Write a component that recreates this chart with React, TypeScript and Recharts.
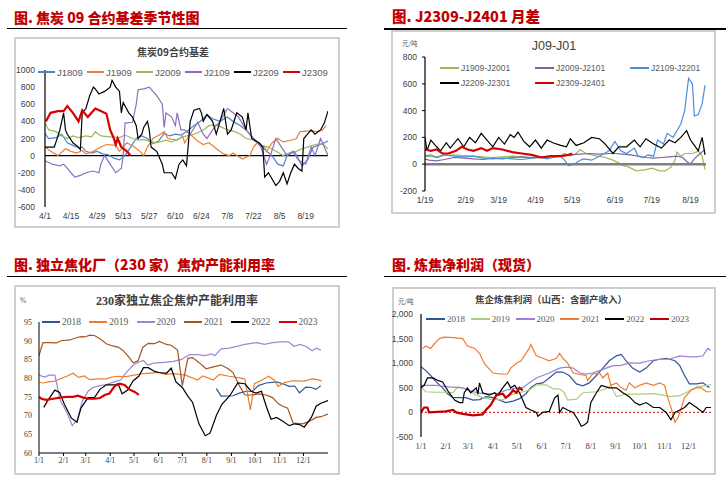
import React from 'react';
import { LineChart, Line, XAxis, YAxis, ReferenceLine } from 'recharts';

type Pt = [number, number];
interface Series { name: string; color: string; width: number; pts: Pt[] }

// ---------- Panel 1: 焦炭09合约基差 (x = days since 4/1) ----------
const p1TickDays = [0, 14, 28, 42, 56, 70, 84, 98, 112, 126, 140];
const p1TickLabels = ['4/1', '4/15', '4/29', '5/13', '5/27', '6/10', '6/24', '7/8', '7/22', '8/5', '8/19'];
const p1YTicks = [-600, -400, -200, 0, 200, 400, 600, 800, 1000];

const j1809: Pt[] = [[0,260],[2,200],[6,210],[9,250],[12,150],[15,120],[18,90],[20,100],[22,50],[25,30],[28,50],[31,20],[34,10],[37,-30],[40,-50],[43,0],[46,100],[49,200],[52,230],[55,200],[58,140],[61,170],[64,260],[67,230],[70,250],[73,240],[76,280],[80,350],[84,410],[87,480],[90,430],[94,400],[98,450],[101,400],[105,350],[108,300],[112,200],[116,120],[119,50],[122,0],[125,-100],[128,-120],[130,0],[134,50],[138,-120],[141,-50],[144,100],[148,130],[152,170]];
const j1909: Pt[] = [[0,100],[3,50],[7,0],[11,80],[14,50],[17,30],[20,60],[22,20],[26,50],[30,100],[33,130],[38,120],[40,50],[44,150],[48,100],[51,50],[53,0],[55,100],[58,200],[62,250],[64,280],[66,200],[71,180],[74,230],[75,150],[78,250],[82,170],[85,130],[88,150],[91,100],[92,80],[96,20],[99,0],[101,30],[106,-40],[110,0],[112,100],[114,150],[118,100],[119,50],[122,150],[125,200],[128,160],[132,180],[135,200],[137,280],[143,290],[146,280],[149,300],[151,350]];
const j2009: Pt[] = [[0,380],[2,300],[6,280],[9,230],[12,200],[15,230],[18,210],[22,230],[25,220],[27,280],[30,230],[35,220],[40,210],[43,240],[47,200],[50,180],[53,190],[56,170],[60,150],[65,180],[68,160],[72,200],[76,230],[80,250],[85,300],[88,350],[92,360],[95,330],[98,300],[102,280],[105,250],[108,200],[112,180],[116,120],[120,100],[124,50],[128,0],[131,30],[135,50],[138,80],[141,100],[145,130],[149,140],[152,80]];
const j2109: Pt[] = [[0,-60],[4,-100],[8,-120],[10,-100],[12,-150],[14,-200],[16,-250],[19,-230],[22,-200],[26,-180],[29,-200],[30,-100],[32,0],[35,-100],[38,-200],[41,-150],[42,0],[43,380],[47,390],[49,600],[50,770],[53,780],[56,800],[60,700],[63,600],[64,330],[65,500],[68,450],[70,350],[71,500],[73,300],[75,300],[78,250],[80,320],[82,390],[85,250],[87,200],[90,300],[94,400],[98,550],[101,500],[104,450],[108,300],[112,200],[116,100],[119,-100],[121,0],[124,200],[127,100],[130,0],[133,50],[136,-50],[140,-100],[143,100],[145,0],[148,200],[150,100],[152,0]];
const j2209: Pt[] = [[0,100],[5,100],[8,300],[10,500],[11,300],[12,250],[15,150],[18,100],[19,70],[20,500],[22,550],[24,700],[26,800],[27,780],[29,720],[32,750],[35,800],[36,880],[38,800],[40,750],[41,500],[42,620],[45,500],[47,450],[49,350],[50,200],[52,250],[53,330],[55,400],[56,300],[57,100],[60,50],[63,-100],[64,-200],[68,-200],[70,-270],[72,-100],[74,-50],[76,-120],[78,400],[80,530],[83,550],[84,500],[85,400],[87,480],[90,400],[92,250],[94,400],[96,550],[98,250],[100,300],[103,500],[106,450],[108,300],[109,500],[111,200],[115,150],[117,100],[118,-250],[120,-200],[124,-350],[126,-300],[128,-200],[130,-330],[132,-200],[134,-100],[136,-150],[138,-180],[139,200],[141,250],[143,300],[145,250],[148,300],[150,380],[152,520]];
const j2309: Pt[] = [[0.5,400],[3,500],[7,520],[10,520],[12,580],[15,500],[18,400],[20,530],[23,450],[25,500],[27,550],[30,520],[33,490],[35,300],[37,200],[38,130],[39,200],[41,100],[44,50],[46,0]];

const p1Series: Series[] = [
  { name: 'J1809', color: '#4A86C8', width: 1.2, pts: j1809 },
  { name: 'J1909', color: '#ED7D31', width: 1.2, pts: j1909 },
  { name: 'J2009', color: '#9BBB59', width: 1.2, pts: j2009 },
  { name: 'J2109', color: '#8E6FBF', width: 1.2, pts: j2109 },
  { name: 'J2209', color: '#000000', width: 1.2, pts: j2209 },
  { name: 'J2309', color: '#D80000', width: 2.2, pts: j2309 },
];

// ---------- Panel 2: J09-J01 (x = trading-day index since 1/19) ----------
const p2TickDays = [0, 21, 38, 57, 76, 98, 117, 137];
const p2TickLabels = ['1/19', '2/19', '3/19', '4/19', '5/19', '6/19', '7/19', '8/19'];
const p2YTicks = [-200, 0, 200, 400, 600, 800];

const s1909: Pt[] = [[0,60],[5,55],[10,65],[15,70],[20,65],[25,60],[30,55],[35,50],[40,55],[45,60],[50,55],[55,45],[60,50],[65,55],[70,60],[72,80],[75,60],[78,80],[80,110],[83,80],[86,70],[89,60],[93,50],[97,30],[100,10],[102,-10],[105,-20],[109,-50],[114,-40],[117,-30],[121,-50],[124,-50],[127,-20],[129,30],[130,90],[132,60],[134,80],[138,80],[140,90],[141,100],[143,60],[144.5,-40]];
const s2009: Pt[] = [[0,40],[2,30],[6,25],[10,35],[15,50],[20,45],[25,40],[30,35],[35,45],[40,40],[45,50],[50,55],[55,50],[60,55],[65,60],[70,60],[75,70],[80,75],[85,80],[90,75],[95,80],[98,80],[102,75],[106,70],[110,60],[114,50],[118,45],[122,50],[126,55],[130,60],[133,50],[135,20],[137,0],[139,40],[142,80],[144.5,110]];
const s2109: Pt[] = [[0,60],[3,70],[6,50],[10,70],[15,60],[20,55],[25,60],[30,45],[35,40],[40,45],[45,40],[50,35],[55,45],[60,50],[63,40],[66,50],[70,60],[72,30],[74,-10],[77,0],[80,30],[82,40],[86,30],[90,60],[95,100],[98,170],[101,100],[104,80],[108,120],[110,60],[113,50],[115,70],[118,60],[120,180],[123,150],[125,230],[128,200],[130,250],[132,300],[134,400],[136,640],[138,600],[139,360],[141,370],[143,450],[144.5,590]];
const s2209: Pt[] = [[0,200],[1,100],[3,180],[6,130],[8,100],[11,160],[13,120],[17,190],[20,130],[23,200],[26,160],[29,230],[32,180],[35,130],[38,200],[41,150],[44,220],[46,200],[48,240],[51,170],[54,130],[57,180],[60,120],[63,180],[66,160],[70,140],[73,130],[75,190],[78,140],[82,160],[86,200],[90,190],[93,150],[97,80],[100,130],[104,130],[108,180],[111,130],[114,190],[118,150],[122,120],[126,180],[129,160],[132,200],[135,250],[137,180],[139,140],[141,100],[143,200],[144.5,70]];
const s2309: Pt[] = [[0,110],[3,100],[6,110],[9,80],[12,80],[16,100],[19,130],[22,110],[25,100],[29,120],[32,100],[35,120],[40,110],[45,90],[50,80],[55,70],[60,50],[65,60],[70,60],[74,70],[76,80]];

const p2Series: Series[] = [
  { name: 'J1909-J2001', color: '#9BBB59', width: 1.2, pts: s1909 },
  { name: 'J2009-J2101', color: '#8064A2', width: 1.2, pts: s2009 },
  { name: 'J2109-J2201', color: '#4A8FD8', width: 1.2, pts: s2109 },
  { name: 'J2209-J2301', color: '#000000', width: 1.2, pts: s2209 },
  { name: 'J2309-J2401', color: '#D80000', width: 2.2, pts: s2309 },
];

// ---------- Panel 3: 230家独立焦企焦炉产能利用率 (x = day of year) ----------
const monthDays = [0, 31, 59, 90, 120, 151, 181, 212, 243, 273, 304, 334];
const monthLabels = ['1/1', '2/1', '3/1', '4/1', '5/1', '6/1', '7/1', '8/1', '9/1', '10/1', '11/1', '12/1'];
const p3YTicks = [60, 65, 70, 75, 80, 85, 90, 95];

const u2018: Pt[] = [[224,77.2],[230,75.2],[245,75.3],[253,76],[262,76.5],[270,76.5],[277,78],[287,78.7],[300,79],[308,78.5],[316,77.8],[323,77.9],[329,76.1],[337,77.6],[344,77.5],[350,77],[356,78]];
const u2019: Pt[] = [[0,78.9],[5,78.7],[12,79],[20,79.2],[35,80.5],[43,81.3],[50,80.2],[57,80.6],[64,79.6],[75,79.8],[85,79.8],[92,80.3],[100,80.5],[110,80.4],[120,80.8],[135,81.3],[150,81.5],[160,81],[170,81.2],[185,80.8],[200,79.5],[207,80.6],[220,79.5],[228,81],[240,80.5],[255,80],[260,79.8],[267,71.5],[272,78.5],[280,79.3],[290,80.5],[297,79.5],[302,77.8],[310,78.8],[320,79.3],[335,79.2],[345,79.8],[352,79.6],[357,79.2]];
const u2020: Pt[] = [[0,80.8],[7,80.3],[13,80.8],[20,80.8],[27,74],[36,70.5],[42,67.3],[48,68.8],[55,74],[62,76.5],[68,77.5],[77,78],[85,78.3],[95,79],[103,79.5],[110,81.5],[119,83.5],[126,84.3],[132,84.7],[137,83.5],[145,84],[158,84.2],[170,84.5],[180,85],[190,86.3],[200,86.3],[210,86],[218,86.5],[222,86],[230,87.8],[240,88],[250,88.5],[260,89],[275,89.5],[285,89],[295,89.5],[305,89.7],[315,89.7],[322,88.5],[330,89],[338,88.4],[345,87.3],[350,88],[356,87.5]];
const u2021: Pt[] = [[0,86],[5,89.5],[13,89.5],[22,89.4],[28,90],[39,90.2],[47,90.8],[53,91.1],[58,91],[64,91.5],[70,91.4],[77,90.5],[85,89.2],[93,88.6],[100,88.3],[106,87.4],[112,86],[119,84.1],[125,84.6],[131,88.2],[138,89.3],[146,89.2],[152,89.8],[161,89],[167,88.8],[175,87.5],[181,78],[188,85.3],[194,85.5],[203,84],[211,82.5],[220,83],[230,83.5],[239,82.5],[245,81.5],[253,78],[260,75.5],[270,75.5],[277,75.8],[287,75.5],[295,74.8],[302,73.2],[308,72.5],[314,72],[321,68],[333,67.8],[342,68.5],[350,69.5],[356,69.7],[365,70.4]];
const u2022: Pt[] = [[6,72.2],[11,74],[20,76.8],[26,76.2],[32,73],[41,69.3],[48,68.2],[53,72],[62,74.8],[70,74.8],[77,77],[85,78.2],[96,78.2],[100,78.5],[105,75.8],[112,76.8],[119,79.3],[126,80.5],[132,82.8],[138,82.8],[146,81.8],[152,81.5],[161,81.3],[167,82.7],[173,79],[181,77.5],[188,75.2],[194,73.5],[202,67.8],[210,64.6],[216,65.3],[224,70],[231,73],[241,75.3],[251,78.7],[260,78.5],[268,76.5],[274,76],[281,76.5],[287,72.5],[293,69],[300,69.5],[308,68.5],[316,67.3],[323,67.8],[329,67.6],[335,66.9],[344,69.5],[350,72.5],[356,73.3],[365,74]];
const u2023: Pt[] = [[0,75],[3,74.5],[9,74.2],[18,74.5],[26,74.8],[35,75],[43,75],[49,75.3],[56,74.8],[62,74.5],[70,74.5],[77,74.7],[83,75.5],[89,75.9],[96,78],[102,78.5],[108,78.2],[114,77],[121,76.3],[126,75.5]];

const p3Series: Series[] = [
  { name: '2018', color: '#2F5597', width: 1.2, pts: u2018 },
  { name: '2019', color: '#ED7D31', width: 1.2, pts: u2019 },
  { name: '2020', color: '#9B88D6', width: 1.2, pts: u2020 },
  { name: '2021', color: '#A5561F', width: 1.2, pts: u2021 },
  { name: '2022', color: '#000000', width: 1.2, pts: u2022 },
  { name: '2023', color: '#D80000', width: 2.2, pts: u2023 },
];

// ---------- Panel 4: 焦企炼焦利润 (x = day of year) ----------
const p4YTicks = [-500, 0, 500, 1000, 1500, 2000];

const r2018: Pt[] = [[0,930],[6,850],[12,750],[19,620],[27,500],[33,380],[40,300],[48,300],[56,300],[65,250],[73,260],[81,320],[90,300],[98,250],[106,200],[115,230],[123,280],[131,380],[137,500],[144,580],[152,600],[160,700],[169,820],[177,820],[185,750],[194,580],[202,540],[210,600],[219,750],[227,900],[235,1050],[244,1150],[250,1180],[256,1050],[264,900],[273,820],[281,900],[290,1050],[298,1080],[306,1100],[317,1050],[323,950],[329,750],[335,580],[344,580],[352,600],[360,500]];
const r2019: Pt[] = [[0,520],[6,420],[19,410],[31,410],[40,400],[46,520],[56,470],[69,350],[77,300],[85,270],[94,270],[102,250],[110,350],[119,380],[127,420],[135,450],[144,560],[156,560],[165,480],[173,480],[179,400],[183,250],[194,270],[202,400],[219,420],[231,480],[237,540],[244,320],[256,370],[273,370],[290,380],[302,350],[310,320],[323,340],[333,420],[344,520],[362,560]];
const r2020: Pt[] = [[0,550],[19,550],[35,520],[52,500],[65,420],[77,380],[94,380],[106,450],[119,500],[127,500],[135,600],[144,700],[152,750],[160,800],[173,900],[181,920],[190,900],[198,800],[206,780],[214,800],[223,850],[231,900],[240,950],[248,950],[260,1000],[273,1000],[285,1050],[298,1080],[310,1080],[323,1150],[335,1130],[344,1130],[352,1150],[358,1300],[362,1260]];
const r2021: Pt[] = [[2,1300],[6,1350],[12,1300],[17,1400],[23,1500],[29,1530],[40,1520],[52,1500],[58,1350],[67,1300],[73,1200],[79,1000],[83,920],[90,800],[98,780],[108,780],[112,900],[119,1000],[125,1050],[131,1200],[135,1300],[137,1380],[144,1150],[152,1100],[160,1050],[169,1100],[173,1200],[177,1100],[183,1000],[190,800],[198,770],[206,750],[208,650],[214,780],[223,800],[227,700],[233,800],[237,550],[244,600],[250,500],[256,450],[260,600],[267,500],[273,550],[281,600],[290,550],[298,600],[304,550],[308,300],[312,100],[317,-200],[321,-100],[325,100],[329,300],[337,450],[344,500],[350,500],[356,420],[362,420]];
const r2022: Pt[] = [[0,500],[4,550],[8,700],[15,700],[21,650],[27,620],[35,400],[42,250],[48,200],[52,200],[54,400],[58,500],[62,400],[69,500],[71,370],[73,600],[77,400],[85,350],[92,400],[96,350],[102,500],[108,620],[112,500],[117,550],[123,400],[131,100],[137,50],[144,0],[146,-80],[152,0],[160,20],[167,300],[171,350],[173,0],[177,100],[183,50],[190,0],[196,-150],[200,-280],[204,-250],[208,-200],[212,200],[219,400],[225,550],[235,500],[244,500],[252,400],[260,320],[267,200],[273,150],[281,200],[290,100],[298,100],[306,0],[312,-150],[317,0],[323,50],[329,100],[335,200],[344,100],[352,0],[356,100],[362,100]];
const r2023: Pt[] = [[0,0],[4,100],[8,100],[10,0],[31,20],[40,50],[44,0],[52,-30],[65,-60],[77,-40],[81,50],[87,150],[94,350],[102,380],[106,300],[110,350],[115,450],[119,400],[123,500],[127,450]];

const p4Series: Series[] = [
  { name: '2018', color: '#2F5597', width: 1.2, pts: r2018 },
  { name: '2019', color: '#A9CF7E', width: 1.2, pts: r2019 },
  { name: '2020', color: '#9E80D2', width: 1.2, pts: r2020 },
  { name: '2021', color: '#ED7D31', width: 1.2, pts: r2021 },
  { name: '2022', color: '#000000', width: 1.2, pts: r2022 },
  { name: '2023', color: '#C00000', width: 2.2, pts: r2023 },
];

// ---------- helpers ----------
const toXY = (pts: Pt[]) => pts.map(([x, y]) => ({ x, y }));
const SANS = "'Liberation Sans', Arial, sans-serif";
const SERIF = "'Liberation Serif', 'Times New Roman', serif";
const CJK = "'Noto Sans CJK SC', sans-serif";

const lines = (series: Series[]) =>
  series.map((s) => (
    <Line
      key={s.name}
      data={toXY(s.pts)}
      dataKey="y"
      type="linear"
      stroke={s.color}
      strokeWidth={s.width}
      dot={false}
      activeDot={false}
      isAnimationActive={false}
    />
  ));

const Abs: React.FC<{ x: number; y: number; style?: React.CSSProperties; children?: React.ReactNode }> = ({ x, y, style, children }) => (
  <div style={{ position: 'absolute', left: x, top: y, whiteSpace: 'nowrap', lineHeight: 1, ...style }}>{children}</div>
);

const LegendRow: React.FC<{ items: Series[]; x0: number; y: number; step: number; lineLen: number; font: string; size: number }> = ({ items, x0, y, step, lineLen, font, size }) => (
  <>
    {items.map((s, i) => (
      <div key={s.name} style={{ position: 'absolute', left: x0 + i * step, top: y - 6, height: 12, display: 'flex', alignItems: 'center', whiteSpace: 'nowrap' }}>
        <div style={{ width: lineLen, height: Math.max(1.5, s.width), background: s.color }} />
        <span style={{ marginLeft: 2, fontFamily: font, fontSize: size, color: '#595959' }}>{s.name}</span>
      </div>
    ))}
  </>
);

const Box: React.FC<{ x: number; y: number; w: number; h: number }> = ({ x, y, w, h }) => (
  <div style={{ position: 'absolute', left: x, top: y, width: w, height: h, boxSizing: 'border-box', border: '2px solid #CFCFCF' }} />
);

const Title: React.FC<{ x: number; y: number; text: string; size?: number }> = ({ x, y, text, size = 14 }) => (
  <Abs x={x} y={y} style={{ fontFamily: CJK, fontWeight: 900, fontSize: size, color: '#C00000' }}>{text}</Abs>
);

const Rule: React.FC<{ x: number; y: number; w: number }> = ({ x, y, w }) => (
  <div style={{ position: 'absolute', left: x, top: y, width: w, height: 1.5, background: '#000' }} />
);

export default function App() {
  return (
    <div style={{ position: 'absolute', left: 0, top: 0, width: 726, height: 483, background: '#fff', overflow: 'hidden' }}>
      {/* ===== Panel 1 ===== */}
      <Title x={14} y={10} text="图. 焦炭 09 合约基差季节性图" />
      <Rule x={7} y={27.5} w={340} />
      <Box x={14} y={37} w={326} h={191} />
      <Abs x={173} y={52} style={{ transform: 'translate(-50%,-50%)', fontFamily: CJK, fontWeight: 700, fontSize: 10, color: '#404040' }}>焦炭09合约基差</Abs>
      <div style={{ position: 'absolute', left: 14, top: 37 }}>
        <LineChart width={326} height={191} margin={{ top: 33, right: 12, bottom: 1, left: 0 }}>
          <XAxis type="number" dataKey="x" domain={[0, 152]} ticks={p1TickDays} interval={0}
            tickFormatter={(v: number) => p1TickLabels[p1TickDays.indexOf(v)]}
            axisLine={false} tickLine={false} tickSize={3} tickMargin={3} height={20}
            tick={{ fontSize: 8.5, fill: '#404040', fontFamily: SANS }} allowDataOverflow />
          <YAxis type="number" domain={[-600, 1000]} ticks={p1YTicks} interval={0} width={31}
            axisLine={{ stroke: '#000', strokeWidth: 1.2 }} tickLine={false} tickSize={2} tickMargin={8}
            tick={{ fontSize: 8.5, fill: '#404040', fontFamily: SANS }} allowDataOverflow />
          <ReferenceLine y={0} stroke="#000" strokeWidth={1.2} />
          {lines(p1Series)}
        </LineChart>
      </div>
      <LegendRow items={p1Series} x0={38} y={72} step={49} lineLen={17} font={SANS} size={9.5} />

      {/* ===== Panel 2 ===== */}
      <Title x={392} y={9} text="图. J2309-J2401 月差" size={14.5} />
      <Rule x={384} y={28} w={342} />
      <Box x={391} y={30} w={325} h={184} />
      <Abs x={554} y={46} style={{ transform: 'translate(-50%,-50%)', fontFamily: SANS, fontSize: 12.5, color: '#404040' }}>J09-J01</Abs>
      <Abs x={402} y={40} style={{ fontFamily: CJK, fontSize: 6.5, color: '#595959' }}>元/吨</Abs>
      <div style={{ position: 'absolute', left: 392, top: 30 }}>
        <LineChart width={324} height={184} margin={{ top: 27, right: 10, bottom: 1, left: 0 }}>
          <XAxis type="number" dataKey="x" domain={[0, 145]} ticks={p2TickDays} interval={0}
            tickFormatter={(v: number) => p2TickLabels[p2TickDays.indexOf(v)]}
            axisLine={false} tickLine={false} tickSize={3} tickMargin={3} height={22}
            tick={{ fontSize: 8.5, fill: '#404040', fontFamily: SANS }} allowDataOverflow />
          <YAxis type="number" domain={[-200, 800]} ticks={p2YTicks} interval={0} width={33}
            axisLine={{ stroke: '#000', strokeWidth: 1.2 }} tickLine={{ stroke: '#000' }} tickSize={3} tickMargin={5}
            tick={{ fontSize: 8.5, fill: '#404040', fontFamily: SANS }} allowDataOverflow />
          {lines(p2Series)}
          <ReferenceLine y={0} stroke="#808080" strokeWidth={2.5} />
        </LineChart>
      </div>
      <LegendRow items={p2Series.slice(0, 3)} x0={440} y={68} step={95} lineLen={19} font={SANS} size={8.5} />
      <LegendRow items={p2Series.slice(3)} x0={440} y={83} step={95} lineLen={19} font={SANS} size={8.5} />

      {/* ===== Panel 3 ===== */}
      <Title x={14} y={257} text="图. 独立焦化厂（230 家）焦炉产能利用率" />
      <Rule x={7} y={275.5} w={340} />
      <Box x={14} y={285} w={326} h={190} />
      <Abs x={177} y={301} style={{ transform: 'translate(-50%,-50%)', fontFamily: SERIF + ',' + CJK, fontWeight: 700, fontSize: 12, color: '#404040' }}>230家独立焦企焦炉产能利用率</Abs>
      <Abs x={20} y={297} style={{ fontFamily: SERIF, fontSize: 7.5, color: '#595959' }}>%</Abs>
      <div style={{ position: 'absolute', left: 14, top: 285 }}>
        <LineChart width={326} height={190} margin={{ top: 37, right: 12, bottom: 2, left: 0 }}>
          <XAxis type="number" dataKey="x" domain={[0, 365]} ticks={monthDays} interval={0}
            tickFormatter={(v: number) => monthLabels[monthDays.indexOf(v)]}
            axisLine={{ stroke: '#000', strokeWidth: 1.2 }} tickLine={{ stroke: '#000' }} tickSize={3} tickMargin={1} height={20}
            tick={{ fontSize: 8, fill: '#404040', fontFamily: SERIF }} allowDataOverflow />
          <YAxis type="number" domain={[60, 95]} ticks={p3YTicks} interval={0} width={25}
            axisLine={{ stroke: '#000', strokeWidth: 1 }} tickLine={false} tickSize={2} tickMargin={5}
            tick={{ fontSize: 8, fill: '#404040', fontFamily: SERIF }} allowDataOverflow />
          {lines(p3Series)}
        </LineChart>
      </div>
      <LegendRow items={p3Series} x0={42} y={322} step={47.3} lineLen={18} font={SERIF} size={9.5} />

      {/* ===== Panel 4 ===== */}
      <Title x={392} y={257} text="图. 炼焦净利润（现货）" />
      <Rule x={384} y={275.5} w={342} />
      <Box x={392} y={287} w={324} h={188} />
      <Abs x={551} y={300} style={{ transform: 'translate(-50%,-50%)', fontFamily: CJK, fontWeight: 700, fontSize: 9.5, color: '#404040' }}>焦企炼焦利润（山西：含副产收入）</Abs>
      <Abs x={398} y={298} style={{ fontFamily: CJK, fontSize: 6.5, color: '#595959' }}>元/吨</Abs>
      <div style={{ position: 'absolute', left: 392, top: 287 }}>
        <LineChart width={324} height={188} margin={{ top: 27, right: 5, bottom: 18, left: 0 }}>
          <XAxis type="number" dataKey="x" domain={[0, 362]} ticks={monthDays} interval={0}
            tickFormatter={(v: number) => monthLabels[monthDays.indexOf(v)]}
            axisLine={false} tickLine={false} tickSize={3} tickMargin={3} height={20}
            tick={{ fontSize: 8.5, fill: '#404040', fontFamily: SERIF }} allowDataOverflow />
          <YAxis type="number" domain={[-500, 2000]} ticks={p4YTicks} interval={0} width={29}
            tickFormatter={(v: number) => v.toLocaleString('en-US')}
            axisLine={{ stroke: '#000', strokeWidth: 1.2 }} tickLine={false} tickSize={2} tickMargin={6}
            tick={{ fontSize: 8.5, fill: '#404040', fontFamily: SANS }} allowDataOverflow />
          <ReferenceLine y={0} stroke="#E03030" strokeWidth={1.2} strokeDasharray="2 2" />
          {lines(p4Series)}
        </LineChart>
      </div>
      <LegendRow items={p4Series} x0={426} y={319} step={44.8} lineLen={19} font={SERIF} size={9} />
    </div>
  );
}
